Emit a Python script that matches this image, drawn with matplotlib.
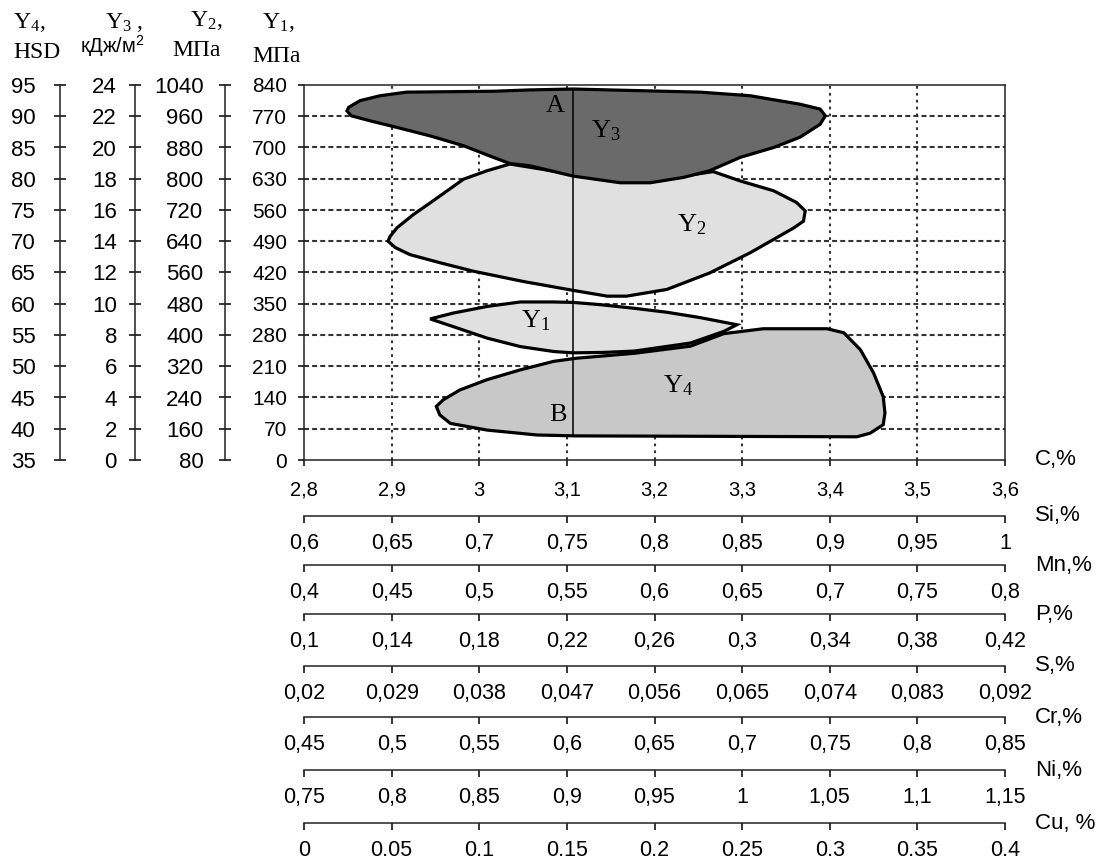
import numpy as np
import matplotlib
matplotlib.use('Agg')
import matplotlib.pyplot as plt

plt.rcParams['font.family'] = ['Liberation Sans', 'DejaVu Sans']
plt.rcParams['mathtext.fontset'] = 'custom'
plt.rcParams['mathtext.rm'] = 'Liberation Serif'

# --- data ---
# left scales (all share the same vertical position)
y1_lo, y1_hi, y1_step = 0, 840, 70      # Y1, MPa
y2_lo, y2_hi, y2_step = 80, 1040, 80    # Y2, MPa
y3_lo, y3_hi, y3_step = 0, 24, 2        # Y3, kJ/m2
y4_lo, y4_hi, y4_step = 35, 95, 5       # Y4, HSD

# bottom scales: element, low end, high end, decimal separator
elements = ['C,%', 'Si,%', 'Mn,%', 'P,%', 'S,%', 'Cr,%', 'Ni,%', 'Cu, %']
el_lo = [2.8, 0.6, 0.4, 0.1, 0.02, 0.45, 0.75, 0.0]
el_hi = [3.6, 1.0, 0.8, 0.42, 0.092, 0.85, 1.15, 0.4]
el_sep = [',', ',', ',', ',', ',', ',', ',', '.']
n_ticks = 9

# regions (C,% ; Y1 scale)
y3_c = [2.849, 2.851, 2.864, 2.887, 2.917, 3.016, 3.058, 3.107, 3.252, 3.309, 3.366,
        3.389, 3.395, 3.389, 3.366, 3.336, 3.298, 3.263, 3.233, 3.195, 3.161, 3.107,
        3.058, 3.035, 3.012, 2.982, 2.944, 2.906, 2.875, 2.854]
y3_v = [782, 790, 805, 816, 824, 826, 829, 831, 824, 816, 797,
        786, 771, 752, 723, 700, 678, 648, 633, 621, 621, 636,
        659, 664, 681, 704, 726, 745, 760, 771]

y2_c = [3.035, 3.009, 2.982, 2.967, 2.944, 2.925, 2.906, 2.898, 2.896, 2.904, 2.921,
        2.955, 2.993, 3.050, 3.107, 3.146, 3.168, 3.214, 3.263, 3.309, 3.343, 3.359,
        3.370, 3.372, 3.362, 3.336, 3.298, 3.267, 3.233, 3.195, 3.161, 3.107]
y2_v = [663, 648, 629, 608, 576, 550, 520, 500, 490, 476, 460,
        442, 423, 400, 380, 367, 367, 382, 419, 464, 502, 520,
        535, 558, 577, 603, 625, 646, 636, 625, 625, 640]

y1_c = [2.944, 2.970, 3.009, 3.047, 3.085, 3.107, 3.138, 3.176, 3.214, 3.252,
        3.294, 3.279, 3.241, 3.177, 3.142, 3.107, 3.085, 3.047, 3.009, 2.970]
y1_v = [316, 329, 344, 354, 354, 353, 348, 340, 331, 319,
        303, 288, 262, 244, 241, 240, 243, 254, 273, 299]

y4_c = [2.951, 2.959, 2.978, 3.009, 3.047, 3.085, 3.111, 3.177, 3.241, 3.279, 3.324,
        3.397, 3.416, 3.435, 3.450, 3.461, 3.463, 3.461, 3.446, 3.431, 3.111, 3.066,
        3.009, 2.967, 2.955]
y4_v = [120, 135, 157, 180, 202, 221, 228, 239, 255, 283, 294,
        294, 285, 247, 195, 142, 105, 79, 60, 52, 54, 56,
        67, 82, 101]

# line A-B
ab_c = 3.107
ab_top, ab_bottom = 831, 54

# labels inside the chart
region_names = ['$\\mathregular{Y_3}$', '$\\mathregular{Y_2}$', '$\\mathregular{Y_1}$',
                '$\\mathregular{Y_4}$', 'A', 'B']
region_c = [3.145, 3.243, 3.065, 3.227, 3.087, 3.090]
region_v = [737, 526, 311, 167, 794, 100]

W, H = 1101, 863


def fx(x):
    return x / W


def fy(y):
    return 1 - y / H


def fmt(v, sep):
    s = '%g' % round(v, 4)
    return s.replace('.', sep)


def lin(lo_a, hi_a, lo_b, hi_b):
    k = (hi_b - lo_b) / (hi_a - lo_a)
    return (lambda v: lo_b + (v - lo_a) * k, lambda v: lo_a + (v - lo_b) / k)


fig = plt.figure(figsize=(W / 100, H / 100), dpi=100)
ax_l, ax_r, ax_t, ax_b = 304, 1005, 85, 460
ax = fig.add_axes([fx(ax_l), fy(ax_b), fx(ax_r - ax_l), (ax_b - ax_t) / H])
ax.set_xlim(el_lo[0], el_hi[0])
ax.set_ylim(y1_lo, y1_hi)

grid_col = '#333333'
y1_ticks = np.arange(y1_lo, y1_hi + 1, y1_step)
c_ticks = np.linspace(el_lo[0], el_hi[0], n_ticks)
for v in y1_ticks[1:-1]:
    ax.axhline(v, color=grid_col, lw=1.5, ls=(0, (2.4, 1.5)), zorder=1)
for v in c_ticks[1:-1]:
    ax.axvline(v, color=grid_col, lw=1.5, ls=(0, (1.3, 2.0)), zorder=1)

ax.fill(y4_c, y4_v, facecolor='#c8c8c8', edgecolor='black', lw=2.3, zorder=2)
ax.fill(y1_c, y1_v, facecolor='#e0e0e0', edgecolor='black', lw=2.3, zorder=3)
ax.fill(y2_c, y2_v, facecolor='#e0e0e0', edgecolor='black', lw=2.3, zorder=3)
ax.fill(y3_c, y3_v, facecolor='#6a6a6a', edgecolor='black', lw=2.3, zorder=4)
ax.plot([ab_c, ab_c], [ab_bottom, ab_top], color='black', lw=1.1, zorder=5)

for name, c, v in zip(region_names, region_c, region_v):
    ax.text(c, v, name, ha='center', va='center', fontsize=19,
            family='Liberation Serif', zorder=6)

for s in ax.spines.values():
    s.set_linewidth(1.1)
    s.set_color('#222222')

ax.set_yticks(y1_ticks)
ax.set_yticklabels([str(int(v)) for v in y1_ticks])
ax.tick_params(axis='y', direction='out', length=4, width=1.1, pad=8, labelsize=15)
ax.set_xticks(c_ticks)
ax.set_xticklabels([fmt(v, el_sep[0]) for v in c_ticks])
ax.tick_params(axis='x', direction='out', length=4, width=1.1, pad=11, labelsize=14.5)
ax.text(1.043, 0, elements[0], transform=ax.transAxes, ha='left', va='center',
        fontsize=16)

# extra left scales
ax_w = ax_r - ax_l
left_scales = [
    (225, y2_lo, y2_hi, y2_step, 11.5),
    (135, y3_lo, y3_hi, y3_step, 9),
    (60, y4_lo, y4_hi, y4_step, 13.5),
]
for xpos, lo, hi, step, pad in left_scales:
    sec = ax.secondary_yaxis((xpos - ax_l) / ax_w, functions=lin(y1_lo, y1_hi, lo, hi))
    ticks = np.arange(lo, hi + step / 2, step)
    sec.set_yticks(ticks)
    sec.set_yticklabels([str(int(v)) for v in ticks])
    sec.tick_params(axis='y', direction='inout', length=8, width=1.1, pad=pad,
                    labelsize=16)
    sec.spines['left'].set_linewidth(1.1)
    sec.spines['left'].set_color('#222222')

# extra bottom scales
line_y = [516, 565, 614, 666, 717, 770, 823]
for i, ypos in enumerate(line_y, start=1):
    bx = fig.add_axes([fx(ax_l), fy(ypos), fx(ax_w), 0.0001])
    bx.patch.set_visible(False)
    for k in ['left', 'right', 'top']:
        bx.spines[k].set_visible(False)
    bx.spines['bottom'].set_linewidth(1.1)
    bx.spines['bottom'].set_color('#222222')
    bx.set_yticks([])
    bx.set_xlim(el_lo[i], el_hi[i])
    ticks = np.linspace(el_lo[i], el_hi[i], n_ticks)
    bx.set_xticks(ticks)
    bx.set_xticklabels([fmt(v, el_sep[i]) for v in ticks])
    bx.set_xticks([el_lo[i], el_hi[i]], minor=True)
    bx.tick_params(axis='x', which='major', direction='out', length=5, width=1.1,
                   pad=7, labelsize=15.5)
    bx.tick_params(axis='x', which='minor', direction='in', length=5, width=1.1)
    bx.text(1.043, 0, elements[i], transform=bx.transAxes, ha='left', va='center',
            fontsize=16)

# headers of the left scales
serif = 'Liberation Serif'
fig.text(fx(13), fy(23), '$\\mathregular{Y_4}$,', family=serif, fontsize=17, va='center')
fig.text(fx(13), fy(53), 'HSD', family=serif, fontsize=17, va='center')
fig.text(fx(105), fy(23), '$\\mathregular{Y_3}$ ,', family=serif, fontsize=17, va='center')
fig.text(fx(80), fy(46), 'кДж/м$\\mathregular{^2}$', fontsize=14.5, va='center')
fig.text(fx(190), fy(21), '$\\mathregular{Y_2}$,', family=serif, fontsize=17, va='center')
fig.text(fx(172), fy(50), 'МПа', family=serif, fontsize=17, va='center')
fig.text(fx(262), fy(23), '$\\mathregular{Y_1}$,', family=serif, fontsize=17, va='center')
fig.text(fx(252), fy(56), 'МПа', family=serif, fontsize=17, va='center')

fig.savefig('out.png', dpi=100)
